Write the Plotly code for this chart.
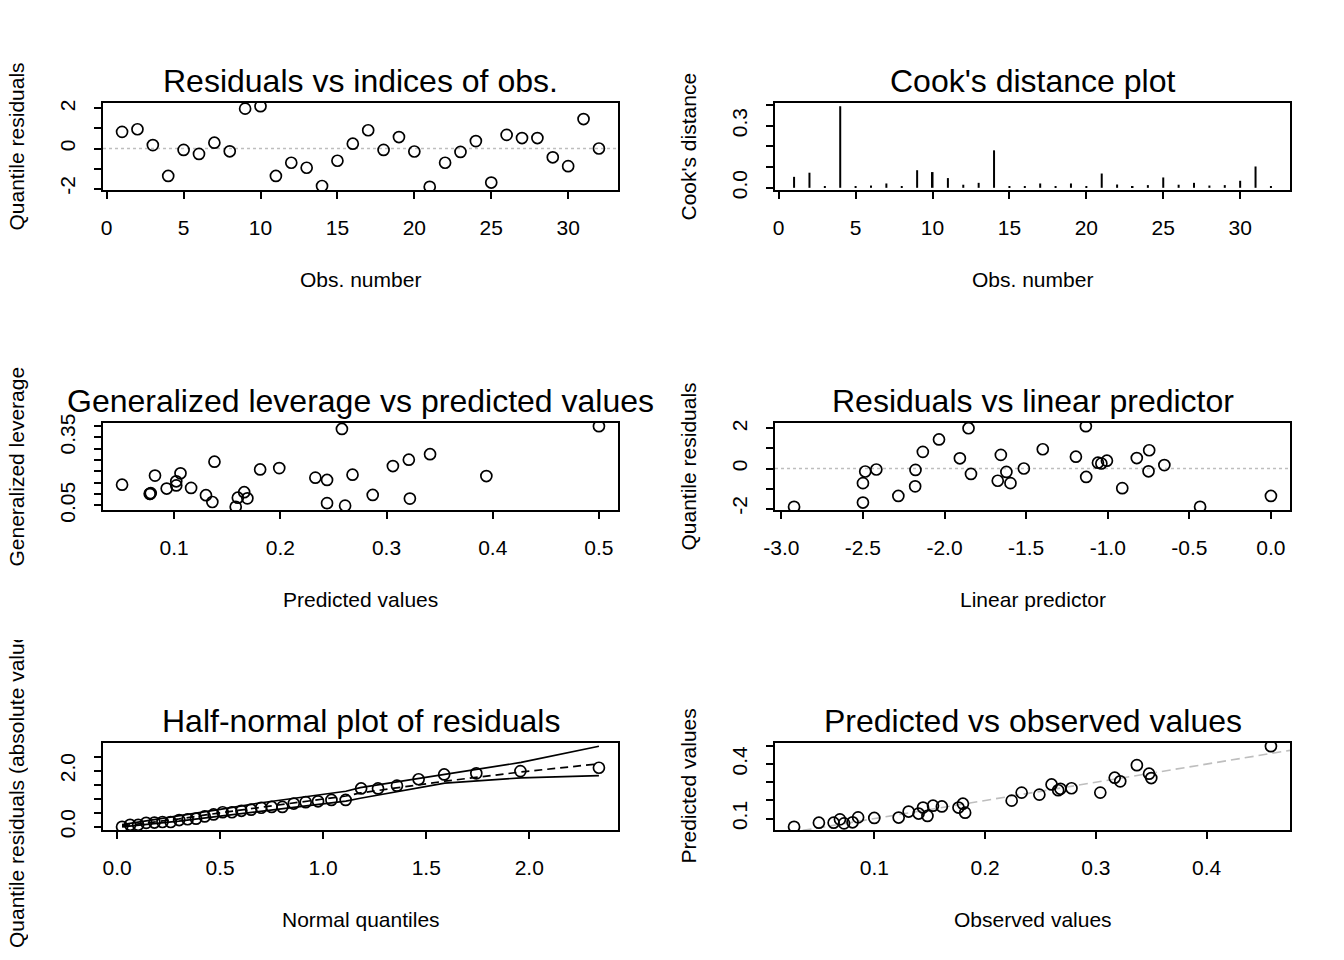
import plotly.graph_objects as go

W, H = 1344, 960
FONT = "Liberation Sans, Arial, Helvetica, sans-serif"

# ---- data ----
obs_index = [1, 2, 3, 4, 5, 6, 7, 8, 9, 10, 11, 12, 13, 14, 15, 16,
             17, 18, 19, 20, 21, 22, 23, 24, 25, 26, 27, 28, 29, 30, 31, 32]
quantile_resid = [0.83, 0.96, 0.17, -1.37, -0.07, -0.27, 0.29, -0.14, 1.99, 2.11,
                  -1.37, -0.71, -0.96, -1.87, -0.61, 0.24, 0.91, -0.07, 0.57, -0.15,
                  -1.91, -0.71, -0.17, 0.37, -1.70, 0.68, 0.52, 0.52, -0.44, -0.88,
                  1.47, 0.00]
cooks_dist = [0.053, 0.073, 0.008, 0.394, 0.005, 0.011, 0.021, 0.006, 0.085, 0.076,
              0.047, 0.015, 0.024, 0.181, 0.006, 0.005, 0.021, 0.005, 0.021, 0.005,
              0.069, 0.016, 0.005, 0.013, 0.050, 0.015, 0.024, 0.011, 0.013, 0.034,
              0.103, 0.005]

lev_pred = [0.051, 0.082, 0.077, 0.0775, 0.078, 0.093, 0.102, 0.102, 0.106, 0.116,
            0.130, 0.136, 0.138, 0.158, 0.160, 0.166, 0.169, 0.181, 0.199, 0.233,
            0.244, 0.244, 0.258, 0.261, 0.268, 0.287, 0.306, 0.321, 0.322, 0.341,
            0.394, 0.500]
gen_leverage = [0.141, 0.181, 0.101, 0.101, 0.104, 0.124, 0.156, 0.138, 0.191, 0.127,
                0.095, 0.065, 0.242, 0.044, 0.084, 0.108, 0.081, 0.208, 0.214, 0.172,
                0.162, 0.060, 0.386, 0.049, 0.185, 0.096, 0.223, 0.251, 0.080, 0.275,
                0.179, 0.398]

lin_pred = [-2.922, -2.500, -2.500, -2.486, -2.418, -2.283, -2.180, -2.178, -2.133, -2.034,
            -1.906, -1.853, -1.838, -1.674, -1.655, -1.621, -1.596, -1.514, -1.398, -1.195,
            -1.134, -1.132, -1.060, -1.039, -1.005, -0.911, -0.822, -0.750, -0.746, -0.653,
            -0.434, 0.000]
lin_resid = [-1.91, -1.70, -0.73, -0.15, -0.05, -1.37, -0.89, -0.07, 0.83, 1.45,
             0.51, 2.01, -0.27, -0.61, 0.68, -0.17, -0.73, 0.00, 0.96, 0.59,
             2.11, -0.42, 0.29, 0.25, 0.39, -0.98, 0.52, -0.14, 0.91, 0.17,
             -1.91, -1.37]

hn_quantiles = [0.024, 0.063, 0.102, 0.141, 0.181, 0.220, 0.260, 0.301, 0.342, 0.383,
                0.425, 0.468, 0.512, 0.557, 0.603, 0.650, 0.699, 0.750, 0.802, 0.857,
                0.915, 0.975, 1.040, 1.109, 1.184, 1.266, 1.358, 1.463, 1.587, 1.743,
                1.957, 2.338]
hn_abs_resid = [0.00, 0.07, 0.07, 0.14, 0.15, 0.17, 0.17, 0.24, 0.27, 0.29,
                0.37, 0.44, 0.52, 0.52, 0.57, 0.61, 0.68, 0.71, 0.71, 0.83,
                0.88, 0.91, 0.96, 0.96, 1.37, 1.37, 1.47, 1.70, 1.87, 1.91,
                1.99, 2.11]
env_x = [0.024, 0.30, 0.50, 0.70, 0.90, 1.11, 1.18, 1.46, 1.59, 1.96, 2.338]
env_lower = [0.00, 0.20, 0.38, 0.55, 0.72, 0.92, 1.02, 1.40, 1.56, 1.75, 1.83]
env_median = [0.03, 0.28, 0.50, 0.70, 0.88, 1.10, 1.21, 1.50, 1.63, 1.96, 2.25]
env_upper = [0.08, 0.38, 0.62, 0.86, 1.06, 1.27, 1.40, 1.72, 1.86, 2.30, 2.88]

observed = [0.0276, 0.050, 0.0633, 0.069, 0.0727, 0.0804, 0.0854, 0.100, 0.122, 0.131,
            0.140, 0.144, 0.148, 0.153, 0.161, 0.176, 0.180, 0.182, 0.224, 0.233,
            0.249, 0.260, 0.266, 0.268, 0.278, 0.304, 0.317, 0.322, 0.337, 0.348,
            0.350, 0.458]
predicted = [0.0553, 0.0777, 0.0777, 0.096, 0.074, 0.080, 0.107, 0.104, 0.106, 0.139,
             0.128, 0.161, 0.115, 0.171, 0.167, 0.161, 0.182, 0.133, 0.199, 0.243,
             0.232, 0.288, 0.256, 0.264, 0.267, 0.243, 0.325, 0.305, 0.394, 0.347,
             0.323, 0.498]

titles = ["Residuals vs indices of obs.", "Cook's distance plot",
          "Generalized leverage vs predicted values", "Residuals vs linear predictor",
          "Half-normal plot of residuals", "Predicted vs observed values"]
xlabels = ["Obs. number", "Obs. number", "Predicted values", "Linear predictor",
           "Normal quantiles", "Observed values"]
ylabels = ["Quantile residuals", "Cook's distance", "Generalized leverage",
           "Quantile residuals", "Quantile residuals (absolute values)", "Predicted values"]

# tick values and their labels (blank where R dropped an overlapping label)
x_ticks = [
    ([0, 5, 10, 15, 20, 25, 30], ["0", "5", "10", "15", "20", "25", "30"]),
    ([0, 5, 10, 15, 20, 25, 30], ["0", "5", "10", "15", "20", "25", "30"]),
    ([0.1, 0.2, 0.3, 0.4, 0.5], ["0.1", "0.2", "0.3", "0.4", "0.5"]),
    ([-3.0, -2.5, -2.0, -1.5, -1.0, -0.5, 0.0], ["-3.0", "-2.5", "-2.0", "-1.5", "-1.0", "-0.5", "0.0"]),
    ([0.0, 0.5, 1.0, 1.5, 2.0], ["0.0", "0.5", "1.0", "1.5", "2.0"]),
    ([0.1, 0.2, 0.3, 0.4], ["0.1", "0.2", "0.3", "0.4"]),
]
y_ticks = [
    ([-2, -1, 0, 1, 2], ["-2", "", "0", "", "2"]),
    ([0.0, 0.1, 0.2, 0.3, 0.4], ["0.0", "", "", "0.3", ""]),
    ([0.05, 0.10, 0.15, 0.20, 0.25, 0.30, 0.35, 0.40], ["0.05", "", "", "", "", "", "0.35", ""]),
    ([-2, -1, 0, 1, 2], ["-2", "", "0", "", "2"]),
    ([0.0, 0.5, 1.0, 1.5, 2.0, 2.5], ["0.0", "", "", "", "2.0", ""]),
    ([0.1, 0.2, 0.3, 0.4, 0.5], ["0.1", "", "", "0.4", ""]),
]


def rng(*series):
    vals = [v for s in series for v in s]
    lo, hi = min(vals), max(vals)
    pad = 0.04 * (hi - lo)
    return [lo - pad, hi + pad]


x_ranges = [rng(obs_index), rng(obs_index), rng(lev_pred), rng(lin_pred),
            rng(hn_quantiles, env_x), rng(observed)]
y_ranges = [rng(quantile_resid), rng(cooks_dist), rng(gen_leverage), rng(lin_resid),
            rng(hn_abs_resid, env_lower, env_upper), rng(predicted)]

# panel boxes in pixels
cols = [(103, 618), (775, 1290)]
rows = [(103, 190), (423, 510), (743, 830)]


def px(x):
    return x / W


def py(y):
    return 1 - y / H


circ = dict(symbol="circle-open", size=11, color="black", line=dict(width=1.7, color="black"))

fig = go.Figure()
fig.add_trace(go.Scatter(x=obs_index, y=quantile_resid, mode="markers", marker=circ,
                         xaxis="x", yaxis="y"))
fig.add_trace(go.Bar(x=obs_index, y=cooks_dist, width=0.13, marker=dict(color="black", line_width=0),
                     xaxis="x2", yaxis="y2"))
fig.add_trace(go.Scatter(x=lev_pred, y=gen_leverage, mode="markers", marker=circ,
                         xaxis="x3", yaxis="y3"))
fig.add_trace(go.Scatter(x=lin_pred, y=lin_resid, mode="markers", marker=circ,
                         xaxis="x4", yaxis="y4"))
fig.add_trace(go.Scatter(x=env_x, y=env_upper, mode="lines", line=dict(color="black", width=1.7),
                         xaxis="x5", yaxis="y5"))
fig.add_trace(go.Scatter(x=env_x, y=env_lower, mode="lines", line=dict(color="black", width=1.7),
                         xaxis="x5", yaxis="y5"))
fig.add_trace(go.Scatter(x=env_x, y=env_median, mode="lines",
                         line=dict(color="black", width=1.7, dash="8px,5px"),
                         xaxis="x5", yaxis="y5"))
fig.add_trace(go.Scatter(x=hn_quantiles, y=hn_abs_resid, mode="markers", marker=circ,
                         xaxis="x5", yaxis="y5"))
# identity line across the panel
fig.add_trace(go.Scatter(x=x_ranges[5], y=x_ranges[5], mode="lines",
                         line=dict(color="#BEBEBE", width=1.6, dash="9px,5px"),
                         xaxis="x6", yaxis="y6"))
fig.add_trace(go.Scatter(x=observed, y=predicted, mode="markers", marker=circ,
                         xaxis="x6", yaxis="y6"))

axis_style = dict(showline=True, mirror=True, linecolor="black", linewidth=1.8,
                  ticks="outside", ticklen=7, tickwidth=1.6, tickcolor="black",
                  showgrid=False, zeroline=False, fixedrange=True, automargin=False,
                  tickfont=dict(family=FONT, size=21, color="black"))

annotations = []
shapes = []
for k in range(6):
    r, c = divmod(k, 2)
    x0, x1 = cols[c]
    y0, y1 = rows[r]
    suffix = "" if k == 0 else str(k + 1)
    fig.update_layout(**{
        "xaxis" + suffix: dict(axis_style, domain=[px(x0), px(x1)], range=x_ranges[k],
                               anchor="y" + suffix, tickvals=x_ticks[k][0], ticktext=x_ticks[k][1],
                               ticklabelstandoff=11),
        "yaxis" + suffix: dict(axis_style, domain=[py(y1), py(y0)], range=y_ranges[k],
                               anchor="x" + suffix, tickvals=y_ticks[k][0], ticktext=y_ticks[k][1],
                               tickangle=-90, ticklabelstandoff=11),
    })
    cx = (x0 + x1) / 2
    annotations.append(dict(text=titles[k], x=px(cx), y=py(y0 - 22), xref="paper", yref="paper",
                            xanchor="center", yanchor="middle", showarrow=False,
                            font=dict(family=FONT, size=32, color="black")))
    annotations.append(dict(text=xlabels[k], x=px(cx), y=py(y1 + 89), xref="paper", yref="paper",
                            xanchor="center", yanchor="middle", showarrow=False,
                            font=dict(family=FONT, size=21, color="black")))
    ylab = dict(text=ylabels[k], x=px(x0 - 87), y=py((y0 + y1) / 2), xref="paper", yref="paper",
                xanchor="center", yanchor="middle", showarrow=False, textangle=-90,
                font=dict(family=FONT, size=21, color="black"))
    if k == 4:
        # R clips this long label at the top of its figure row
        ylab.update(width=308, align="left", y=py(794), borderpad=0)
    annotations.append(ylab)

# dotted zero reference lines
for k in (0, 3):
    suffix = "" if k == 0 else str(k + 1)
    shapes.append(dict(type="line", xref="x" + suffix + " domain", yref="y" + suffix,
                       x0=0, x1=1, y0=0, y1=0, layer="below",
                       line=dict(color="#BEBEBE", width=1.6, dash="3px,3px")))

fig.update_layout(
    width=W, height=H,
    margin=dict(l=0, r=0, t=0, b=0, autoexpand=False),
    paper_bgcolor="white", plot_bgcolor="white",
    showlegend=False,
    annotations=annotations,
    shapes=shapes,
    font=dict(family=FONT, color="black"),
)

fig.write_html("out.html", config={"displayModeBar": False},
               post_script="document.body.style.margin='0px';")
